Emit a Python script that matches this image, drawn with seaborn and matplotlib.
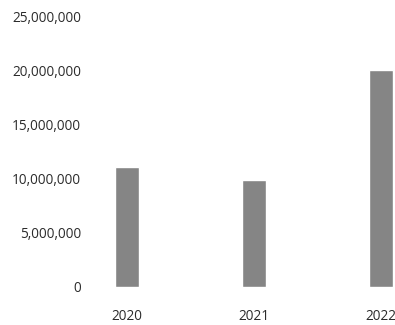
import matplotlib
matplotlib.use("Agg")
import matplotlib.pyplot as plt
import seaborn as sns
import pandas as pd
from matplotlib.ticker import FuncFormatter

# Yearly totals
years = ["2020", "2021", "2022"]
totals = [11100000, 9900000, 20100000]

# Axis settings
y_ticks = [0, 5000000, 10000000, 15000000, 20000000, 25000000]

df = pd.DataFrame({"year": years, "total": totals})

sns.set_theme(style="white")
plt.rcParams["font.family"] = ["Open Sans", "DejaVu Sans"]

fig = plt.figure(figsize=(3.95, 3.25), dpi=100)
ax = fig.add_axes([95 / 395, 38 / 325, 300 / 395, 270 / 325])

sns.barplot(data=df, x="year", y="total", color="#858585", saturation=1,
            width=0.19, ax=ax)

ax.set_xlim(-0.252, 2.11)
ax.set_ylim(0, 25000000)
ax.set_yticks(y_ticks)
ax.yaxis.set_major_formatter(FuncFormatter(lambda v, _: f"{int(v):,}"))
ax.set_xlabel("")
ax.set_ylabel("")
for s in ax.spines.values():
    s.set_visible(False)
ax.tick_params(axis="y", length=0, pad=10, labelsize=9.8, labelcolor="#2b2b2b")
ax.tick_params(axis="x", length=0, pad=16, labelsize=9.8, labelcolor="#2b2b2b")

fig.savefig("out.png", dpi=100, facecolor="white")
